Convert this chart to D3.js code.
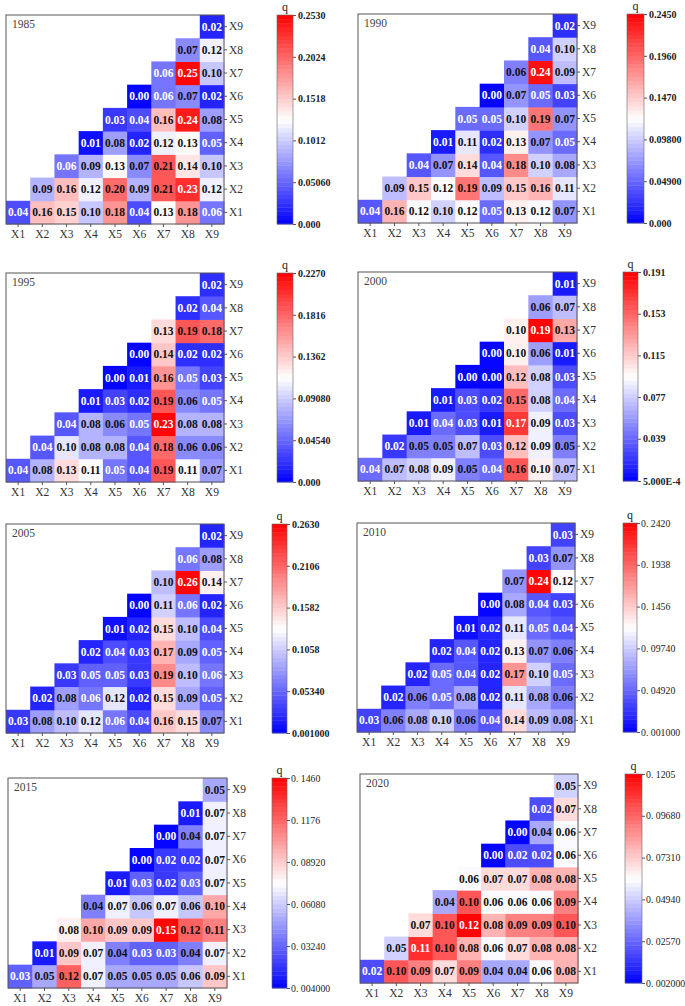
<!DOCTYPE html>
<html>
<head>
<meta charset="utf-8">
<script src="https://cdn.jsdelivr.net/npm/d3@7"></script>
<style>
body { margin: 0; background: #fff; }
svg { display: block; font-family: "Liberation Serif", "Times New Roman", serif; }
</style>
</head>
<body>
<svg id="chart" width="685" height="1006"></svg>
<script>
var vars = ["X1", "X2", "X3", "X4", "X5", "X6", "X7", "X8", "X9"];
var years = ["1985", "1990", "1995", "2000", "2005", "2010", "2015", "2020"];

// q values: row Xr holds columns Xr..X9 (row X1 first)
var q1985 = [
    [0.04, 0.16, 0.15, 0.10, 0.18, 0.04, 0.13, 0.18, 0.06],
    [0.09, 0.16, 0.12, 0.20, 0.09, 0.21, 0.23, 0.12],
    [0.06, 0.09, 0.13, 0.07, 0.21, 0.14, 0.10],
    [0.01, 0.08, 0.02, 0.12, 0.13, 0.05],
    [0.03, 0.04, 0.16, 0.24, 0.08],
    [0.00, 0.06, 0.07, 0.02],
    [0.06, 0.25, 0.10],
    [0.07, 0.12],
    [0.02]
];
var q1990 = [
    [0.04, 0.16, 0.12, 0.10, 0.12, 0.05, 0.13, 0.12, 0.07],
    [0.09, 0.15, 0.12, 0.19, 0.09, 0.15, 0.16, 0.11],
    [0.04, 0.07, 0.14, 0.04, 0.18, 0.10, 0.08],
    [0.01, 0.11, 0.02, 0.13, 0.07, 0.05],
    [0.05, 0.05, 0.10, 0.19, 0.07],
    [0.00, 0.07, 0.05, 0.03],
    [0.06, 0.24, 0.09],
    [0.04, 0.10],
    [0.02]
];
var q1995 = [
    [0.04, 0.08, 0.13, 0.11, 0.05, 0.04, 0.19, 0.11, 0.07],
    [0.04, 0.10, 0.08, 0.08, 0.04, 0.18, 0.06, 0.06],
    [0.04, 0.08, 0.06, 0.05, 0.23, 0.08, 0.08],
    [0.01, 0.03, 0.02, 0.19, 0.06, 0.05],
    [0.00, 0.01, 0.16, 0.05, 0.03],
    [0.00, 0.14, 0.02, 0.02],
    [0.13, 0.19, 0.18],
    [0.02, 0.04],
    [0.02]
];
var q2000 = [
    [0.04, 0.07, 0.08, 0.09, 0.05, 0.04, 0.16, 0.10, 0.07],
    [0.02, 0.05, 0.05, 0.07, 0.03, 0.12, 0.09, 0.05],
    [0.01, 0.04, 0.03, 0.01, 0.17, 0.09, 0.03],
    [0.01, 0.03, 0.02, 0.15, 0.08, 0.04],
    [0.00, 0.00, 0.12, 0.08, 0.03],
    [0.00, 0.10, 0.06, 0.01],
    [0.10, 0.19, 0.13],
    [0.06, 0.07],
    [0.01]
];
var q2005 = [
    [0.03, 0.08, 0.10, 0.12, 0.06, 0.04, 0.16, 0.15, 0.07],
    [0.02, 0.08, 0.06, 0.12, 0.02, 0.15, 0.09, 0.05],
    [0.03, 0.05, 0.05, 0.03, 0.19, 0.10, 0.06],
    [0.02, 0.04, 0.03, 0.17, 0.09, 0.05],
    [0.01, 0.02, 0.15, 0.10, 0.04],
    [0.00, 0.11, 0.06, 0.02],
    [0.10, 0.26, 0.14],
    [0.06, 0.08],
    [0.02]
];
var q2010 = [
    [0.03, 0.06, 0.08, 0.10, 0.06, 0.04, 0.14, 0.09, 0.08],
    [0.02, 0.06, 0.05, 0.08, 0.02, 0.11, 0.08, 0.06],
    [0.02, 0.05, 0.04, 0.02, 0.17, 0.10, 0.05],
    [0.02, 0.04, 0.02, 0.13, 0.07, 0.06],
    [0.01, 0.02, 0.11, 0.05, 0.04],
    [0.00, 0.08, 0.04, 0.03],
    [0.07, 0.24, 0.12],
    [0.03, 0.07],
    [0.03]
];
var q2015 = [
    [0.03, 0.05, 0.12, 0.07, 0.05, 0.05, 0.05, 0.06, 0.09],
    [0.01, 0.09, 0.07, 0.04, 0.03, 0.03, 0.04, 0.07],
    [0.08, 0.10, 0.09, 0.09, 0.15, 0.12, 0.11],
    [0.04, 0.07, 0.06, 0.07, 0.06, 0.10],
    [0.01, 0.03, 0.02, 0.03, 0.07],
    [0.00, 0.02, 0.02, 0.07],
    [0.00, 0.04, 0.07],
    [0.01, 0.07],
    [0.05]
];
var q2020 = [
    [0.02, 0.10, 0.09, 0.07, 0.09, 0.04, 0.04, 0.06, 0.08],
    [0.05, 0.11, 0.10, 0.08, 0.06, 0.07, 0.08, 0.08],
    [0.07, 0.10, 0.12, 0.08, 0.09, 0.09, 0.10],
    [0.04, 0.10, 0.06, 0.06, 0.06, 0.09],
    [0.06, 0.07, 0.07, 0.08, 0.08],
    [0.00, 0.02, 0.02, 0.06],
    [0.00, 0.04, 0.06],
    [0.02, 0.07],
    [0.05]
];

// colour bar tick labels, bottom to top (first = min, last = max)
var ticks1985 = ["0.000", "0.05060", "0.1012", "0.1518", "0.2024", "0.2530"];
var ticks1990 = ["0.000", "0.04900", "0.09800", "0.1470", "0.1960", "0.2450"];
var ticks1995 = ["0.000", "0.04540", "0.09080", "0.1362", "0.1816", "0.2270"];
var ticks2000 = ["5.000E-4", "0.039", "0.077", "0.115", "0.153", "0.191"];
var ticks2005 = ["0.001000", "0.05340", "0.1058", "0.1582", "0.2106", "0.2630"];
var ticks2010 = ["0. 001000", "0. 04920", "0. 09740", "0. 1456", "0. 1938", "0. 2420"];
var ticks2015 = ["0. 004000", "0. 03240", "0. 06080", "0. 08920", "0. 1176", "0. 1460"];
var ticks2020 = ["0. 002000", "0. 02570", "0. 04940", "0. 07310", "0. 09680", "0. 1205"];

var qData = [q1985, q1990, q1995, q2000, q2005, q2010, q2015, q2020];
var tickData = [ticks1985, ticks1990, ticks1995, ticks2000, ticks2005, ticks2010, ticks2015, ticks2020];

// layout: heatmap frame [x0, y0, x1, y1] and colour bar [x0, x1]
var frames = [
    [6, 15, 224, 224], [358, 14, 577, 223],
    [6, 273, 224, 482], [358, 272, 577, 481],
    [6, 524, 224, 733], [357, 523, 575, 732],
    [8, 778, 227, 988], [360, 774, 578, 983]
];
var bars = [
    [277, 293], [627, 644],
    [277, 293], [623, 638],
    [272, 287], [623, 637],
    [272, 287], [625, 642]
];

var LEVELS = 50;
var svg = d3.select('#chart');

function parseTick(s) {
    return parseFloat(s.replace(/\s/g, ''));
}

// blue - white - red, stepped like the original contour levels
function makeColor(min, max) {
    var lin = d3.scaleLinear().domain([0, 0.5, 1]).range(["#0000ff", "#ffffff", "#ff0000"]);
    return function (v) {
        var t = (v - min) / (max - min);
        t = Math.max(0, Math.min(1, t));
        var lev = Math.min(LEVELS - 1, Math.floor(t * LEVELS));
        return lin((lev + 0.5) / LEVELS);
    };
}

function luminance(c) {
    var rgb = d3.rgb(c);
    var f = function (x) {
        x = x / 255;
        return x <= 0.03928 ? x / 12.92 : Math.pow((x + 0.055) / 1.055, 2.4);
    };
    return 0.2126 * f(rgb.r) + 0.7152 * f(rgb.g) + 0.0722 * f(rgb.b);
}

years.forEach(function (year, i) {
    var q = qData[i];
    var tks = tickData[i];
    var fr = frames[i];
    var cb = bars[i];
    var min = parseTick(tks[0]);
    var max = parseTick(tks[tks.length - 1]);
    var color = makeColor(min, max);
    var plainTicks = i >= 5; // later panels use a lighter tick font

    var x = d3.scaleBand().domain(vars).range([fr[0], fr[2]]);
    var y = d3.scaleBand().domain(vars.slice().reverse()).range([fr[1], fr[3]]);

    var g = svg.append('g');

    // flatten to cells
    var cells = [];
    q.forEach(function (row, r) {
        row.forEach(function (v, k) {
            cells.push({ row: vars[r], col: vars[r + k], v: v });
        });
    });

    g.selectAll('rect.cell')
        .data(cells)
        .enter().append('rect')
        .attr('class', 'cell')
        .attr('x', function (d) { return x(d.col); })
        .attr('y', function (d) { return y(d.row); })
        .attr('width', x.bandwidth() + 0.5)
        .attr('height', y.bandwidth() + 0.5)
        .attr('fill', function (d) { return color(d.v); });

    g.selectAll('text.val')
        .data(cells)
        .enter().append('text')
        .attr('class', 'val')
        .attr('x', function (d) { return x(d.col) + x.bandwidth() / 2; })
        .attr('y', function (d) { return y(d.row) + y.bandwidth() / 2; })
        .attr('dy', '0.35em')
        .attr('text-anchor', 'middle')
        .attr('font-size', 11.5)
        .attr('font-weight', 'bold')
        .attr('fill', function (d) { return luminance(color(d.v)) < 0.27 ? '#fff' : '#111'; })
        .text(function (d) { return d.v.toFixed(2); });

    // frame
    g.append('rect')
        .attr('x', fr[0]).attr('y', fr[1])
        .attr('width', fr[2] - fr[0]).attr('height', fr[3] - fr[1])
        .attr('fill', 'none').attr('stroke', '#555').attr('stroke-width', 1);

    g.append('text')
        .attr('x', fr[0] + 6).attr('y', fr[1] + 13)
        .attr('font-size', 11.5).attr('fill', '#444')
        .text(year);

    // axes
    var xAxis = g.append('g')
        .attr('transform', 'translate(0,' + fr[3] + ')')
        .call(d3.axisBottom(x).tickSize(3).tickPadding(3));
    var yAxis = g.append('g')
        .attr('transform', 'translate(' + fr[2] + ',0)')
        .call(d3.axisRight(y).tickSize(3).tickPadding(2));
    [xAxis, yAxis].forEach(function (ax) {
        ax.select('.domain').remove();
        ax.selectAll('line').attr('stroke', '#555');
        ax.selectAll('text')
            .attr('font-family', '"Liberation Serif", serif')
            .attr('font-size', 11.5).attr('fill', '#333');
    });

    // colour bar
    var cy = d3.scaleLinear().domain([min, max]).range([fr[3], fr[1]]);
    var steps = d3.range(LEVELS);
    var h = (fr[3] - fr[1]) / LEVELS;
    g.selectAll('rect.bar')
        .data(steps)
        .enter().append('rect')
        .attr('class', 'bar')
        .attr('x', cb[0])
        .attr('y', function (s) { return fr[3] - (s + 1) * h; })
        .attr('width', cb[1] - cb[0])
        .attr('height', h + 0.4)
        .attr('fill', function (s) { return color(min + (s + 0.5) / LEVELS * (max - min)); });
    g.append('rect')
        .attr('x', cb[0]).attr('y', fr[1])
        .attr('width', cb[1] - cb[0]).attr('height', fr[3] - fr[1])
        .attr('fill', 'none').attr('stroke', '#666').attr('stroke-width', 0.6);

    var cAxis = g.append('g')
        .attr('transform', 'translate(' + cb[1] + ',0)')
        .call(d3.axisRight(cy)
            .tickValues(tks.map(parseTick))
            .tickFormat(function (d, j) { return tks[j]; })
            .tickSize(3).tickPadding(plainTicks ? 1 : 2));
    cAxis.select('.domain').remove();
    cAxis.selectAll('line').attr('stroke', '#555');
    cAxis.selectAll('text')
        .attr('font-family', '"Liberation Serif", serif')
        .attr('font-size', plainTicks ? 9.8 : 10)
        .attr('font-weight', plainTicks ? 'normal' : 'bold')
        .attr('fill', '#222');

    g.append('text')
        .attr('x', (cb[0] + cb[1]) / 2).attr('y', fr[1] - 4)
        .attr('text-anchor', 'middle')
        .attr('font-size', 12).attr('fill', '#222')
        .text('q');
});
</script>
</body>
</html>
